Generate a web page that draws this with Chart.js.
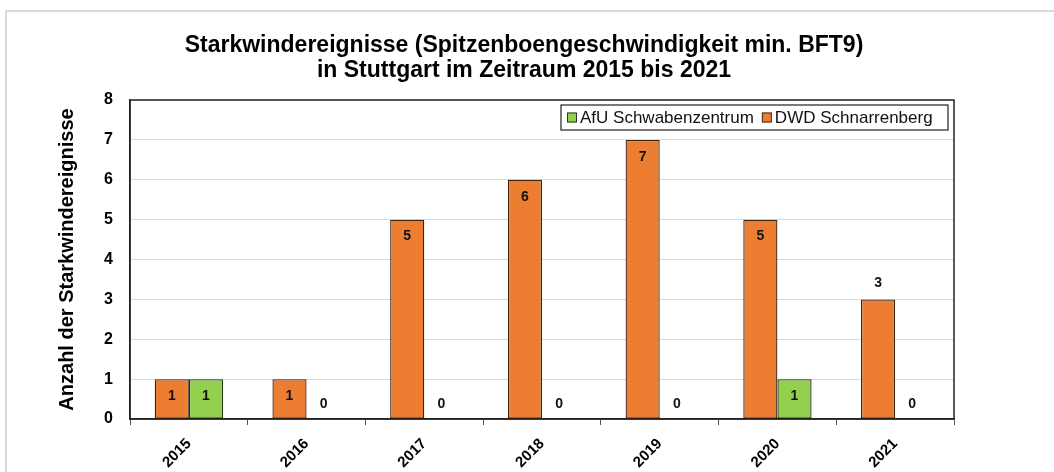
<!DOCTYPE html>
<html>
<head>
<meta charset="utf-8">
<script src="https://cdn.jsdelivr.net/npm/chart.js@4.4.1/dist/chart.umd.min.js"></script>
<style>
  html, body { margin: 0; padding: 0; background: #fff; }
  #wrap { position: relative; width: 1054px; height: 472px; }
</style>
</head>
<body>
<div id="wrap"><canvas id="windChart" width="1054" height="472"></canvas></div>
<script>
// Jahre und Anzahl der Starkwindereignisse je Station
const jahre = ['2015', '2016', '2017', '2018', '2019', '2020', '2021'];
const dwdSchnarrenberg = [1, 1, 5, 6, 7, 5, 3];
const afuSchwabenzentrum = [1, 0, 0, 0, 0, 1, 0];
const yTicks = [0, 1, 2, 3, 4, 5, 6, 7, 8];

const titelZeilen = [
    'Starkwindereignisse (Spitzenboengeschwindigkeit min. BFT9)',
    'in Stuttgart im Zeitraum 2015 bis 2021'
];
const yTitel = 'Anzahl der Starkwindereignisse';

const ORANGE = '#ED7D31';
const GRUEN = '#92D050';
const FONT = '"Liberation Sans", Arial, sans-serif';

// Rahmen, Titel, Legende und Werte-Beschriftung
const extras = {
    id: 'extras',
    beforeDraw(chart) {
        const ctx = chart.ctx;
        ctx.save();
        ctx.fillStyle = '#fff';
        ctx.fillRect(0, 0, chart.width, chart.height);
        ctx.strokeStyle = '#dadada';
        ctx.lineWidth = 2;
        ctx.beginPath();
        ctx.moveTo(6, chart.height);
        ctx.lineTo(6, 11);
        ctx.lineTo(chart.width, 11);
        ctx.stroke();
        ctx.restore();
    },
    afterDraw(chart) {
        const ctx = chart.ctx;
        const area = chart.chartArea;
        ctx.save();

        // Titel
        ctx.fillStyle = '#000';
        ctx.textAlign = 'center';
        ctx.textBaseline = 'middle';
        ctx.font = 'bold 23px ' + FONT;
        titelZeilen.forEach((z, i) => {
            ctx.fillText(z, 524, 46 + i * 25);
        });

        // Achsentitel
        ctx.save();
        ctx.translate(67, (area.top + area.bottom) / 2);
        ctx.rotate(-Math.PI / 2);
        ctx.font = 'bold 20px ' + FONT;
        ctx.fillText(yTitel, 0, 0);
        ctx.restore();

        // Rahmen der Zeichenfläche
        ctx.strokeStyle = '#222';
        ctx.lineWidth = 1.5;
        ctx.strokeRect(area.left, area.top, area.right - area.left, area.bottom - area.top);

        // Werte an den Balken
        ctx.font = 'bold 14px ' + FONT;
        ctx.fillStyle = '#111';
        chart.data.datasets.forEach((ds, di) => {
            const meta = chart.getDatasetMeta(di);
            meta.data.forEach((bar, i) => {
                const v = ds.data[i];
                let y;
                if (v === 0) y = bar.base - 15;
                else if (i === jahre.length - 1) y = bar.y - 16;
                else y = bar.y + 17;
                ctx.fillText(String(v), bar.x, y);
            });
        });

        // Legende
        const lx = 561, ly = 105, lw = 387, lh = 25;
        ctx.fillStyle = '#fff';
        ctx.fillRect(lx, ly, lw, lh);
        ctx.strokeStyle = '#222';
        ctx.lineWidth = 1.2;
        ctx.strokeRect(lx, ly, lw, lh);
        ctx.font = '17px ' + FONT;
        ctx.textAlign = 'left';
        let x = lx + 6;
        [chart.data.datasets[1], chart.data.datasets[0]].forEach(ds => {
            ctx.fillStyle = ds.backgroundColor;
            ctx.fillRect(x, ly + lh / 2 - 5, 10, 10);
            ctx.strokeStyle = '#333';
            ctx.lineWidth = 1;
            ctx.strokeRect(x + 0.5, ly + lh / 2 - 4.5, 9, 9);
            ctx.fillStyle = '#111';
            ctx.fillText(ds.label, x + 13, ly + lh / 2 + 1);
            x += 13 + ctx.measureText(ds.label).width + 8;
        });
        ctx.restore();
    }
};

const ctx = document.getElementById('windChart').getContext('2d');
new Chart(ctx, {
    type: 'bar',
    data: {
        labels: jahre,
        datasets: [{
            label: 'DWD Schnarrenberg',
            data: dwdSchnarrenberg,
            backgroundColor: ORANGE,
            borderColor: '#3a2412',
            borderWidth: c => (c.raw === 0 ? 0 : 1.3),
            borderSkipped: false
        }, {
            label: 'AfU Schwabenzentrum',
            data: afuSchwabenzentrum,
            backgroundColor: GRUEN,
            borderColor: '#26330f',
            borderWidth: c => (c.raw === 0 ? 0 : 1.3),
            borderSkipped: false
        }]
    },
    options: {
        responsive: false,
        animation: false,
        layout: { padding: { top: 100, right: 100, left: 0, bottom: 0 } },
        plugins: {
            legend: { display: false },
            title: { display: false },
            tooltip: { enabled: false }
        },
        datasets: {
            bar: { categoryPercentage: 0.58, barPercentage: 1 }
        },
        scales: {
            x: {
                afterFit: s => { s.height = 53; },
                grid: {
                    offset: true,
                    drawOnChartArea: false,
                    tickLength: 6,
                    color: '#555'
                },
                border: { color: '#222', width: 1.5 },
                ticks: {
                    maxRotation: 45,
                    minRotation: 45,
                    padding: 10,
                    color: '#000',
                    font: { family: FONT, size: 15, weight: 'bold' }
                }
            },
            y: {
                min: 0,
                max: 8,
                afterFit: s => { s.width = 130; },
                afterBuildTicks: s => { s.ticks = yTicks.map(v => ({ value: v })); },
                grid: { color: '#d9d9d9', tickLength: 0, lineWidth: 1 },
                border: { color: '#222', width: 1.5 },
                ticks: {
                    padding: 17,
                    color: '#000',
                    font: { family: FONT, size: 16, weight: 'bold' }
                }
            }
        }
    },
    plugins: [extras]
});
</script>
</body>
</html>
